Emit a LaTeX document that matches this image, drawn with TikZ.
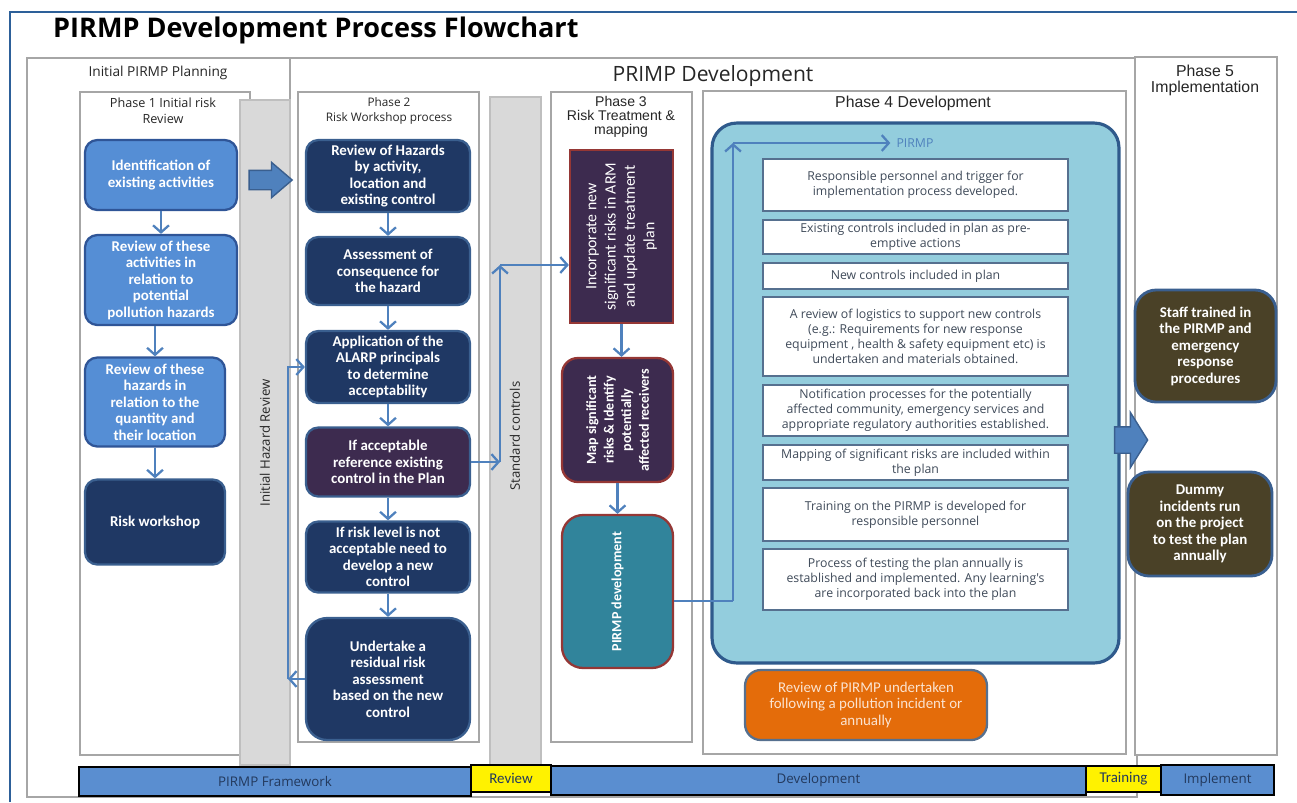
\documentclass[tikz,border=0pt]{standalone}
\usepackage{fontspec}
\setmainfont{Carlito}
\newfontfamily\seg{Open Sans}
\newfontfamily\ari{Liberation Sans}
\usetikzlibrary{arrows.meta,shapes.arrows}

\definecolor{frameblue}{HTML}{2D6099}
\definecolor{panelgrey}{HTML}{A6A6A6}
\definecolor{colgrey}{HTML}{D9D9D9}
\definecolor{colline}{HTML}{BFBFBF}
\definecolor{lightbox}{HTML}{558ED5}
\definecolor{lightline}{HTML}{2F5597}
\definecolor{navybox}{HTML}{1F3864}
\definecolor{navyline}{HTML}{3A5F8F}
\definecolor{plumbox}{HTML}{3D2B4F}
\definecolor{maroonline}{HTML}{953735}
\definecolor{tealbox}{HTML}{31849B}
\definecolor{olivebox}{HTML}{4A4127}
\definecolor{flowblue}{HTML}{4F81BD}
\definecolor{panelblue}{HTML}{93CDDD}
\definecolor{panelline}{HTML}{2F5A8C}
\definecolor{wline}{HTML}{56708F}
\definecolor{wtext}{HTML}{3F4A59}
\definecolor{orangebox}{HTML}{E46C0A}
\definecolor{orangetext}{HTML}{FBE3D0}
\definecolor{bartext}{HTML}{23395D}
\definecolor{barblue}{HTML}{5A8ED0}
\definecolor{hdrtext}{HTML}{262626}

\tikzset{
  frame/.style={draw=panelgrey, line width=1.2pt},
  greycol/.style={fill=colgrey, draw=colline, line width=0.8pt},
  box/.style={rounded corners=7pt, line width=1.3pt, align=center, text=white, inner sep=1pt,
    font=\fontsize{8.5}{9.4}\selectfont\bfseries},
  p1box/.style={box, fill=lightbox, draw=lightline, minimum width=3.04cm},
  p2box/.style={box, fill=navybox, draw=navyline, minimum width=3.28cm},
  p3box/.style={box, rotate=90, fill=plumbox, draw=maroonline, minimum height=2.22cm, rounded corners=9pt},
  p5box/.style={box, fill=olivebox, draw=navyline, rounded corners=12pt, line width=1.6pt},
  wbox/.style={fill=white, draw=wline, line width=0.8pt, align=center, text=wtext, inner sep=1pt,
    minimum width=6.1cm, font=\seg\fontsize{7}{8.6}\selectfont},
  barbox/.style={draw=black, line width=1.4pt, inner sep=0pt, text=bartext},
  flowline/.style={draw=flowblue, line width=1.3pt},
  flow/.style={flowline, -{Straight Barb[length=4pt,width=9pt]}},
  bigarrow/.style={single arrow, fill=flowblue, draw=navyline, line width=0.8pt, inner sep=0pt,
    minimum width=0pt, single arrow head indent=0pt},
  coltext/.style={rotate=90, text=hdrtext, font=\seg\fontsize{7.5}{9}\selectfont},
  phasetitle/.style={align=center, text=hdrtext, font=\ari\fontsize{9}{9.2}\selectfont}
}

\begin{document}
\begin{tikzpicture}[x=0.02cm, y=-0.02cm]
	\useasboundingbox (0,0) rectangle (1297,802);
	\draw[frameblue, line width=1.2pt] (10,802) -- (10,12) -- (1297,12);
	\node[anchor=west, text=black, font=\seg\bfseries\fontsize{15.4}{17}\selectfont] (title) at (47,30) {PIRMP Development Process Flowchart};

	% panels
	\draw[frame] (27,58) rectangle (290,797);
	\draw[frame] (290,58) rectangle (1137,797);
	\draw[frame, fill=white] (1135,57) rectangle (1277,755);
	\draw[frame] (80,92) rectangle (250,755);
	\draw[frame] (298,92) rectangle (479,742);
	\draw[frame] (551,92) rectangle (692,742);
	\draw[frame] (703,91) rectangle (1126,754);
	\draw[greycol] (240,100) rectangle (290,765);
	\draw[greycol] (490,97) rectangle (541,765);

	\node[text=hdrtext, font=\seg\fontsize{7.8}{9}\selectfont] (planning) at (158,73) {Initial PIRMP Planning};
	\node[text=hdrtext, font=\seg\fontsize{12}{14}\selectfont] (development) at (713,76) {PRIMP Development};
	\node[align=center, text=hdrtext, font=\seg\fontsize{7.2}{9}\selectfont] (ph1) at (163,111) {Phase 1 Initial risk\\Review};
	\node[align=center, text=hdrtext, font=\seg\fontsize{6.7}{9}\selectfont] (ph2) at (389,111) {Phase 2\\Risk Workshop process};
	\node[phasetitle, font=\ari\fontsize{8}{8}\selectfont] (ph3) at (621,117) {Phase 3\\Risk Treatment \&\\mapping};
	\node[phasetitle] (ph4) at (913,103) {Phase 4 Development};
	\node[phasetitle] (ph5) at (1205,80) {Phase 5\\Implementation};
	\node[coltext] (ihr) at (265,443) {Initial Hazard Review};
	\node[coltext] (stdc) at (515,436) {Standard controls};

	% phase 1
	\node[p1box, minimum height=1.4cm] (ident) at (161,175) {Identification of\\existing  activities};
	\node[p1box, minimum height=1.8cm] (actrev) at (161,280) {Review of these\\activities in\\relation  to\\potential\\pollution hazards};
	\node[p1box, minimum width=2.8cm, minimum height=1.78cm] (hazrev) at (155,402) {Review of these\\hazards  in\\relation to the\\quantity and\\their location};
	\node[p2box, minimum width=2.8cm, minimum height=1.7cm] (workshop) at (155,522) {Risk workshop};
	\draw[flow] (ident) -- (actrev);
	\draw[flow] (actrev.south -| hazrev) -- (hazrev);
	\draw[flow] (hazrev) -- (workshop);
	\node[bigarrow, minimum height=0.86cm, single arrow head extend=0.16cm, single arrow tip angle=81] (toworkshop) at (265,180) {\rule{0pt}{0.36cm}};

	% phase 2
	\node[p2box, minimum height=1.44cm] (hazards) at (388,176) {Review of Hazards\\by  activity,\\location and\\existing control};
	\node[p2box, minimum height=1.36cm] (conseq) at (388,271) {Assessment of\\consequence for\\the   hazard};
	\node[p2box, minimum height=1.44cm] (alarp) at (388,367) {Application of the\\ALARP  principals\\to determine\\acceptability};
	\node[p2box, fill=plumbox, minimum height=1.38cm] (accept) at (388,462) {If  acceptable\\reference existing\\control in the Plan};
	\node[p2box, minimum height=1.42cm] (notacc) at (388,557) {If risk level is not\\acceptable need to\\develop a new\\control};
	\node[p2box, rounded corners=12pt, minimum height=2.44cm] (residual) at (388,679) {Undertake a\\residual risk\\assessment\\based on the new\\control};
	\draw[flow] (hazards) -- (conseq);
	\draw[flow] (conseq) -- (alarp);
	\draw[flow] (alarp) -- (accept);
	\draw[flow] (accept) -- (notacc);
	\draw[flow] (notacc) -- (residual);
	\coordinate (loopB) at (288,679);
	\draw[flow] (residual.west) -- (loopB);
	\draw[flow] (loopB) |- (alarp.west);

	% phase 3 (rotated: north = left side, west = bottom)
	\node[p3box, rounded corners=0pt, minimum width=3.46cm, minimum height=2.06cm, font=\fontsize{9}{11}\selectfont] (incorp) at (621.5,236.5) {Incorporate  new\\significant  risks in ARM\\and update treatment\\plan};
	\node[p3box, minimum width=2.48cm, font=\fontsize{8}{10}\selectfont\bfseries] (mapsig) at (617.5,420) {Map significant\\risks \& Identify\\potentially\\affected receivers};
	\node[p3box, fill=tealbox, minimum width=3.06cm, rounded corners=12pt, font=\fontsize{8}{10}\selectfont\bfseries] (pdev) at (617.5,591.5) {PIRMP development};
	\coordinate (scB) at (500,462);
	\coordinate (scT) at (500,265);
	\draw[flow] (accept.east) -- (scB);
	\draw[flow] (scB) -- (scT);
	\draw[flow] (scT) -- (scT -| incorp.north);
	\draw[flow] (incorp.west) -- (incorp.west |- mapsig.east);
	\draw[flow] (mapsig.west) -- (pdev.east);

	% phase 4
	\node[fill=panelblue, draw=panelline, line width=1.8pt, rounded corners=14pt, minimum width=8.14cm, minimum height=10.8cm] (panel) at (915.5,393) {};
	\node[text=flowblue, font=\seg\fontsize{7}{8}\selectfont] (pirmp) at (915,143) {PIRMP};
	\node[wbox, minimum height=1.04cm] (resp) at (915.5,185) {Responsible personnel and trigger for\\implementation process developed.};
	\node[wbox, minimum height=0.68cm] (exist) at (915.5,237) {Existing controls  included in plan as pre-\\emptive actions};
	\node[wbox, minimum height=0.52cm] (newc) at (915.5,276) {New controls  included in plan};
	\node[wbox, minimum height=1.58cm] (logist) at (915.5,336.5) {A review of logistics to support new controls\\(e.g.: Requirements for new response\\equipment , health \& safety equipment etc) is\\undertaken and materials obtained.};
	\node[wbox, minimum height=1.02cm] (notif) at (915.5,410.5) {Notification processes for the potentially\\affected community, emergency services and\\appropriate regulatory authorities established.};
	\node[wbox, minimum height=0.7cm] (mapping) at (915.5,462.5) {Mapping of significant risks are included within\\the plan};
	\node[wbox, minimum height=1.06cm] (training) at (915.5,514.5) {Training on the PIRMP is developed for\\responsible personnel};
	\node[wbox, minimum height=1.22cm] (testing) at (915.5,579.5) {Process of testing the plan annually is\\established and implemented. Any learning's\\are incorporated back into the plan};
	\coordinate (pL) at (733,601);
	\coordinate (pT) at (733,143);
	\draw[flowline] (pdev.south |- pL) -- (pL);
	\draw[flow] (pL) -- (pT);
	\draw[flow] (pT) -- (pirmp.west);
	\node[box, fill=orangebox, draw=wline, rounded corners=9pt, text=orangetext, font=\fontsize{8.5}{9.4}\selectfont, minimum width=4.84cm, minimum height=1.4cm] (reviewp) at (866,705) {Review of PIRMP undertaken\\following a pollution incident or\\annually};
	\node[bigarrow, minimum height=0.66cm, single arrow head extend=0.29cm, single arrow tip angle=116] (toimpl) at (1127,440) {\rule{0pt}{0.5cm}};

	% phase 5
	\node[p5box, minimum width=2.82cm, minimum height=2.24cm] (staff) at (1205.5,346) {Staff trained in\\the PIRMP  and\\emergency\\response\\procedures};
	\node[p5box, minimum width=2.88cm, minimum height=2.08cm] (dummy) at (1200,524) {Dummy\\incidents run\\on the project\\to test the plan\\annually};

	% bottom bar
	\node[barbox, fill=barblue, minimum width=7.84cm, minimum height=0.58cm, font=\seg\fontsize{7.6}{9}\selectfont] (framework) at (275,781.5) {PIRMP Framework};
	\node[barbox, fill=yellow, minimum width=1.6cm, minimum height=0.54cm, font=\fontsize{8.5}{9}\selectfont] (review) at (511,778.5) {Review};
	\node[barbox, fill=barblue, minimum width=10.7cm, minimum height=0.58cm, font=\seg\fontsize{7.6}{9}\selectfont] (devbar) at (818.5,780.5) {Development};
	\node[barbox, fill=yellow, minimum width=1.5cm, minimum height=0.52cm, font=\fontsize{8.5}{9}\selectfont] (trainbar) at (1123.5,779) {Training};
	\node[barbox, fill=barblue, minimum width=2.26cm, minimum height=0.6cm, font=\seg\fontsize{7.6}{9}\selectfont] (implbar) at (1217.5,780) {Implement};
\end{tikzpicture}
\end{document}
